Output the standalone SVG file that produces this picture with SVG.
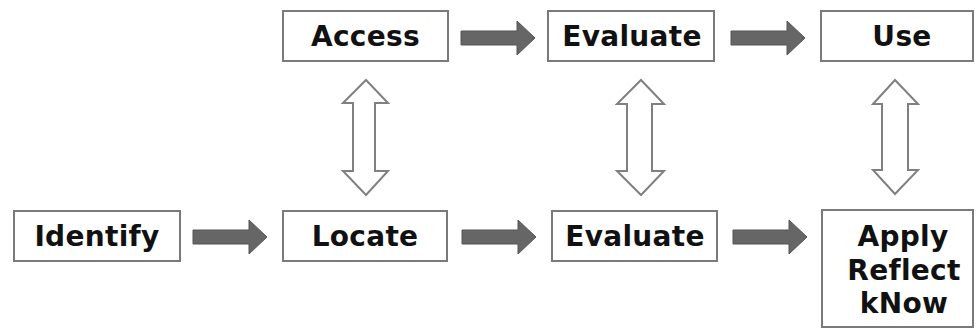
<svg xmlns="http://www.w3.org/2000/svg" width="977" height="328" viewBox="0 0 977 328">
<defs>
<style>
.box{fill:#fff;stroke:#7a7a7a;stroke-width:2}
.lbl{font-family:"DejaVu Sans",Verdana,sans-serif;font-weight:bold;font-size:28px;letter-spacing:0.3px;fill:#111;text-anchor:middle}
.fwd{fill:#666;stroke:#555;stroke-width:1}
.dbl{fill:#fff;stroke:#808080;stroke-width:2;stroke-linejoin:miter}
</style>
<path id="fa" d="M0,-7 H56 V-17 L74,0 L56,17 V7 H0 Z"/>
</defs>
<rect width="977" height="328" fill="#fff"/>
<g id="access"><rect class="box" x="283" y="11" width="165" height="50"/><text class="lbl" x="365.5" y="46">Access</text></g>
<g id="evaluate-top"><rect class="box" x="548" y="11" width="166" height="50"/><text class="lbl" x="632" y="46">Evaluate</text></g>
<g id="use"><rect class="box" x="821" y="11" width="152" height="50"/><text class="lbl" x="902" y="46">Use</text></g>
<g id="identify"><rect class="box" x="14" y="211" width="166" height="50"/><text class="lbl" x="97" y="246">Identify</text></g>
<g id="locate"><rect class="box" x="283" y="211" width="164" height="50"/><text class="lbl" x="365" y="246">Locate</text></g>
<g id="evaluate-bottom"><rect class="box" x="552" y="211" width="165" height="50"/><text class="lbl" x="635" y="246">Evaluate</text></g>
<g id="apply"><rect class="box" x="822" y="210" width="151" height="117"/><text class="lbl" x="903" y="246">Apply</text><text class="lbl" x="904" y="280">Reflect</text><text class="lbl" x="904" y="313">kNow</text></g>
<g id="connectors">
<use href="#fa" class="fwd" x="461" y="38"/>
<use href="#fa" class="fwd" x="731" y="38"/>
<use href="#fa" class="fwd" x="193" y="237"/>
<use href="#fa" class="fwd" x="462" y="237"/>
<use href="#fa" class="fwd" x="733" y="237"/>
<path class="dbl" d="M366,80 L388,103 H375 V171 H388 L366,195 L343,171 H353 V103 H343 Z"/>
<path class="dbl" d="M641,80 L664,104 H652 V171 H664 L641,195 L617,171 H627 V104 H617 Z"/>
<path class="dbl" d="M895,80 L918,104 H908 V170 H918 L895,194 L873,170 H882 V104 H873 Z"/>
</g>
</svg>
